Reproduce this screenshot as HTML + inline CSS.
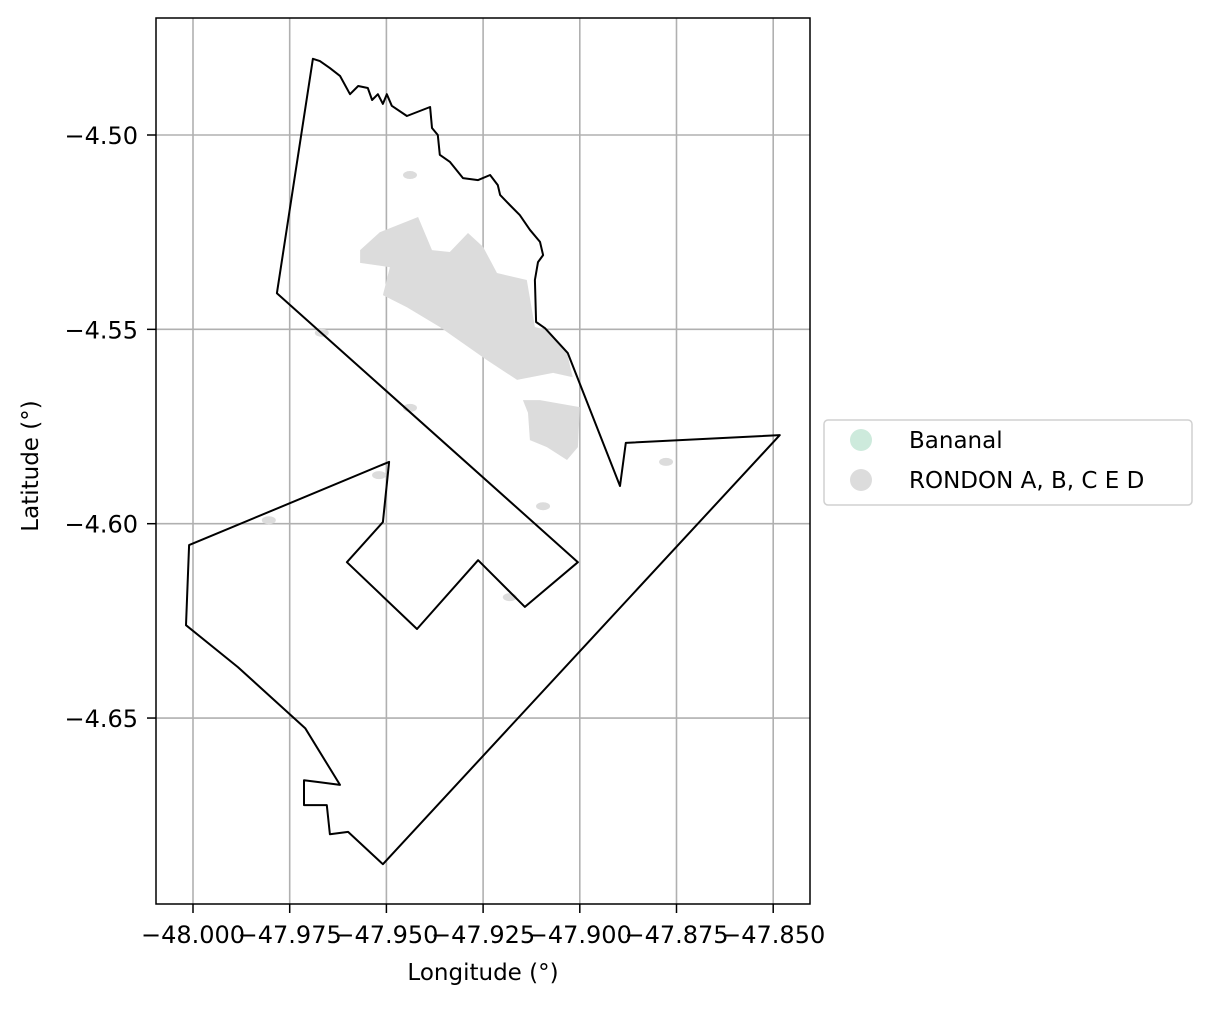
<!DOCTYPE html>
<html><head><meta charset="utf-8"><style>
body{margin:0;background:#fff;}
svg{font-family:"DejaVu Sans","Liberation Sans",sans-serif;}
</style></head><body>
<svg id="chart" width="1211" height="1006"></svg>
<script>
const xTicks=[-48.000,-47.975,-47.950,-47.925,-47.900,-47.875,-47.850];
const xTickLabels=["\u221248.000","\u221247.975","\u221247.950","\u221247.925","\u221247.900","\u221247.875","\u221247.850"];
const yTicks=[-4.50,-4.55,-4.60,-4.65];
const yTickLabels=["\u22124.50","\u22124.55","\u22124.60","\u22124.65"];
const outlineLon=[-47.9783,-47.9690,-47.9672,-47.9646,-47.9620,-47.9594,-47.9573,-47.9548,-47.9537,-47.9522,-47.9509,-47.9499,-47.9486,-47.9447,-47.9387,-47.9382,-47.9367,-47.9362,-47.9336,-47.9302,-47.9263,-47.9232,-47.9212,-47.9206,-47.9181,-47.9155,-47.9129,-47.9103,-47.9095,-47.9108,-47.9116,-47.9113,-47.9090,-47.9031,-47.8896,-47.8881,-47.8483,-47.9509,-47.9599,-47.9646,-47.9654,-47.9713,-47.9713,-47.9672,-47.9620,-47.9710,-47.9884,-48.0018,-48.0010,-47.9493,-47.9509,-47.9602,-47.9421,-47.9263,-47.9142,-47.9005];
const outlineLat=[-4.5407,-4.4804,-4.4810,-4.4828,-4.4848,-4.4895,-4.4874,-4.4879,-4.4910,-4.4895,-4.4920,-4.4895,-4.4925,-4.4951,-4.4928,-4.4982,-4.5000,-4.5051,-4.5069,-4.5111,-4.5116,-4.5103,-4.5129,-4.5154,-4.5180,-4.5206,-4.5244,-4.5275,-4.5309,-4.5327,-4.5373,-4.5481,-4.5497,-4.5561,-4.5903,-4.5792,-4.5772,-4.6876,-4.6793,-4.6799,-4.6724,-4.6724,-4.6660,-4.6665,-4.6672,-4.6526,-4.6369,-4.6261,-4.6055,-4.5841,-4.5996,-4.6099,-4.6271,-4.6094,-4.6214,-4.6099];
const blobALon=[-47.9568,-47.9517,-47.9418,-47.9382,-47.9336,-47.9289,-47.9250,-47.9214,-47.9137,-47.9116,-47.9085,-47.9033,-47.9018,-47.9069,-47.9162,-47.9240,-47.9362,-47.9447,-47.9509,-47.9491,-47.9568];
const blobALat=[-4.5296,-4.5250,-4.5211,-4.5296,-4.5301,-4.5252,-4.5288,-4.5355,-4.5373,-4.5494,-4.5502,-4.5561,-4.5623,-4.5612,-4.5630,-4.5579,-4.5494,-4.5443,-4.5412,-4.5340,-4.5329];
const blobBLon=[-47.9147,-47.9103,-47.9000,-47.9005,-47.9033,-47.9085,-47.9129,-47.9134];
const blobBLat=[-4.5682,-4.5682,-4.5700,-4.5803,-4.5836,-4.5803,-4.5785,-4.5715];
const specLon=[-47.8777,-47.9519,-47.9804,-47.9181,-47.9667,-47.9439,-47.9095,-47.9439];
const specLat=[-4.5841,-4.5875,-4.5991,-4.6189,-4.5509,-4.5702,-4.5955,-4.5103];
const legendLabels=["Bananal","RONDON A, B, C E D"];
const legendColors=["#cdeadc","#dcdcdc"];

const NS="http://www.w3.org/2000/svg";
const svg=document.getElementById('chart');
const L=156,R=810,T=18,B=904;
const sx=v=>193+(v+48)*3868;
const sy=v=>135+(-4.5-v)*3887;
function mk(tag,attrs,parent){const e=document.createElementNS(NS,tag);for(const k in attrs)e.setAttribute(k,attrs[k]);(parent||svg).appendChild(e);return e;}
function pts(lo,la){return lo.map((v,i)=>sx(v).toFixed(1)+","+sy(la[i]).toFixed(1)).join(" ");}

xTicks.forEach((t,i)=>{
  const g=mk('line',{x1:sx(t),x2:sx(t),y1:T,y2:B,stroke:'#b0b0b0','stroke-width':1.6});
  
  
  const tk=mk('line',{x1:sx(t),x2:sx(t),y1:B,y2:B+9,stroke:'#000','stroke-width':1.5});
  
  
  const tx=mk('text',{x:sx(t),y:943,'text-anchor':'middle','font-size':24});
  tx.textContent=xTickLabels[i];
  
  
});
yTicks.forEach((t,i)=>{
  const g=mk('line',{x1:L,x2:R,y1:sy(t),y2:sy(t),stroke:'#b0b0b0','stroke-width':1.6});
  
  
  const tk=mk('line',{x1:L-9,x2:L,y1:sy(t),y2:sy(t),stroke:'#000','stroke-width':1.5});
  
  
  const tx=mk('text',{x:L-18,y:sy(t)+9,'text-anchor':'end','font-size':24});
  tx.textContent=yTickLabels[i];
  
  
});
const ga=mk('polygon',{points:pts(blobALon,blobALat),fill:'#dcdcdc'});


const gb=mk('polygon',{points:pts(blobBLon,blobBLat),fill:'#dcdcdc'});


specLon.forEach((v,i)=>{
  const s=mk('ellipse',{cx:sx(v),cy:sy(specLat[i]),rx:7,ry:4,fill:'#dcdcdc'});
  
  
});
const ol=mk('polygon',{points:pts(outlineLon,outlineLat),fill:'none',stroke:'#000','stroke-width':2,'stroke-linejoin':'round'});


const fr=mk('rect',{x:L,y:T,width:R-L,height:B-T,fill:'none',stroke:'#000','stroke-width':1.5});


const xt=mk('text',{x:483,y:980,'text-anchor':'middle','font-size':23});
xt.textContent='Longitude (°)';


const yt=mk('text',{x:38,y:466,'text-anchor':'middle','font-size':23,transform:'rotate(-90 38 466)'});
yt.textContent='Latitude (°)';


const lb=mk('rect',{x:824,y:420,width:368,height:85,rx:4,fill:'#fff',stroke:'#d0d0d0','stroke-width':1.5});


legendLabels.forEach((lab,i)=>{
  const c=mk('circle',{cx:861,cy:440+i*40,r:11,fill:legendColors[i]});
  
  
  const t=mk('text',{x:909,y:448+i*40,'font-size':23});
  t.textContent=lab;
  
  
});
</script>
</body></html>
